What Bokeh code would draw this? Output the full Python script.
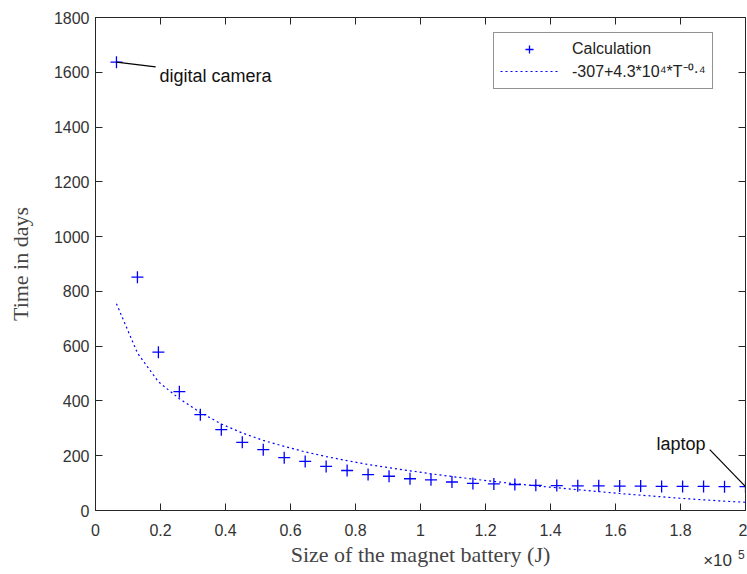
from bokeh.plotting import figure
from bokeh.models import (FixedTicker, LinearAxis, Range1d, Label, Legend,
                          LegendItem, ColumnDataSource)
from bokeh.embed import file_html
from bokeh.resources import INLINE

# ---- data ----
energy_j = [6452, 12903, 19355, 25806, 32258, 38710, 45161, 51613, 58065,
            64516, 70968, 77419, 83871, 90323, 96774, 103226, 109677, 116129,
            122581, 129032, 135484, 141935, 148387, 154839, 161290, 167742,
            174194, 180645, 187097, 193548, 200000]
calc_days = [1637, 852, 578, 434, 350, 295, 249, 222, 193, 179, 161, 146,
             131, 125, 116, 112, 104, 99, 97, 95, 92, 91, 90, 90, 89, 89, 88,
             88, 88, 87, 87]
fit_days = [755, 575, 470, 408, 358, 316, 283, 256, 234, 214, 197, 182, 168,
            156, 145, 134, 124, 115, 106, 98, 90, 83, 76, 69, 62, 56, 50, 44,
            39, 34, 30]
x_ticks = [0, 20000, 40000, 60000, 80000, 100000, 120000, 140000, 160000,
           180000, 200000]
x_tick_labels = ["0", "0.2", "0.4", "0.6", "0.8", "1", "1.2", "1.4", "1.6",
                 "1.8", "2"]
y_ticks = [0, 200, 400, 600, 800, 1000, 1200, 1400, 1600, 1800]
x_mult_base = "×10"
x_mult_exp = "5"

AX = "#262626"
SANS = "Liberation Sans"
SERIF = "Liberation Serif"

p = figure(width=747, height=574, output_backend="svg", toolbar_location=None,
           x_range=Range1d(0, 200000), y_range=Range1d(0, 1800),
           min_border_left=95, min_border_right=2, min_border_top=17,
           min_border_bottom=64)
p.xgrid.visible = False
p.ygrid.visible = False
p.outline_line_color = AX
p.background_fill_color = "white"
p.border_fill_color = "white"

p.xaxis.ticker = FixedTicker(ticks=x_ticks)
p.xaxis.major_label_overrides = dict(zip(x_ticks, x_tick_labels))
p.yaxis.ticker = FixedTicker(ticks=y_ticks)

for ax in (p.xaxis[0], p.yaxis[0]):
    ax.axis_line_color = AX
    ax.major_tick_line_color = AX
    ax.major_tick_in = 7
    ax.major_tick_out = 0
    ax.minor_tick_in = 0
    ax.minor_tick_out = 0
    ax.major_label_text_font = SANS
    ax.major_label_text_font_size = "16px"
    ax.major_label_text_color = "#333333"
    ax.axis_label_text_font = SERIF
    ax.axis_label_text_font_size = "22px"
    ax.axis_label_text_font_style = "normal"
    ax.axis_label_text_color = "#444444"

p.xaxis.axis_label = "Size of the magnet battery (J)"
p.yaxis.axis_label = "Time in days"
p.xaxis.major_label_standoff = 13
p.yaxis.major_label_standoff = 6
p.xaxis.axis_label_standoff = 3
p.yaxis.axis_label_standoff = 18

# box axes on top and right: ticks only
top_ax = LinearAxis(ticker=FixedTicker(ticks=x_ticks),
                    major_label_overrides={t: "" for t in x_ticks})
right_ax = LinearAxis(ticker=FixedTicker(ticks=y_ticks),
                      major_label_overrides={t: "" for t in y_ticks})
for ax in (top_ax, right_ax):
    ax.axis_line_color = AX
    ax.major_tick_line_color = AX
    ax.major_tick_in = 7
    ax.major_tick_out = 0
    ax.minor_tick_in = 0
    ax.minor_tick_out = 0
    ax.major_label_text_font_size = "1px"
    ax.major_label_standoff = 0
p.add_layout(top_ax, "above")
p.add_layout(right_ax, "right")


def label_axis(pos, text, size, standoff):
    a = LinearAxis(ticker=FixedTicker(ticks=[pos]),
                   major_label_overrides={pos: text})
    a.axis_line_color = None
    a.major_tick_line_color = None
    a.minor_tick_line_color = None
    a.major_tick_in = 0
    a.major_tick_out = 0
    a.major_label_text_font = SANS
    a.major_label_text_font_size = size
    a.major_label_text_color = "#333333"
    a.major_label_standoff = standoff
    return a


# x10^5 exponent under the right end of the x axis
p.add_layout(label_axis(191400, x_mult_base, "17px", -19), "below")
p.add_layout(label_axis(198700, x_mult_exp, "12px", -23), "below")

src = ColumnDataSource(dict(x=energy_j, calc=calc_days, fit=fit_days))

r_fit = p.line("x", "fit", source=src, line_color="blue", line_width=1.2,
               line_dash="2 3")
r_calc = p.scatter("x", "calc", source=src, marker="cross", size=12,
                   line_color="blue", line_width=1.3)

# annotations (positions are layout constants)
cam_end = (18500, 1620)
lap_end = (189000, 222)
p.segment(x0=[energy_j[0], energy_j[-1]], y0=[calc_days[0], calc_days[-1]],
          x1=[cam_end[0], lap_end[0]], y1=[cam_end[1], lap_end[1]],
          line_color="black", line_width=1.2)
p.add_layout(Label(x=19700, y=1585, text="digital camera", text_font=SANS,
                   text_font_size="18px", text_color="#111111",
                   text_baseline="alphabetic", text_align="left"))
p.add_layout(Label(x=172600, y=244, text="laptop", text_font=SANS,
                   text_font_size="18px", text_color="#111111",
                   text_baseline="alphabetic", text_align="left"))

legend = Legend(items=[LegendItem(label="Calculation", renderers=[r_calc]),
                       LegendItem(label="-307+4.3*10⁴*T⁻⁰·⁴", renderers=[r_fit])],
                location=(398, 421), margin=0, padding=6, spacing=1,
                glyph_width=58, glyph_height=20, label_height=20,
                label_standoff=14, label_text_font=SANS,
                label_text_font_size="16px", label_text_color="#222222",
                border_line_color=AX, border_line_width=1,
                background_fill_color="white", background_fill_alpha=1)
p.add_layout(legend)

open("out.html", "w").write(file_html(p, INLINE))
